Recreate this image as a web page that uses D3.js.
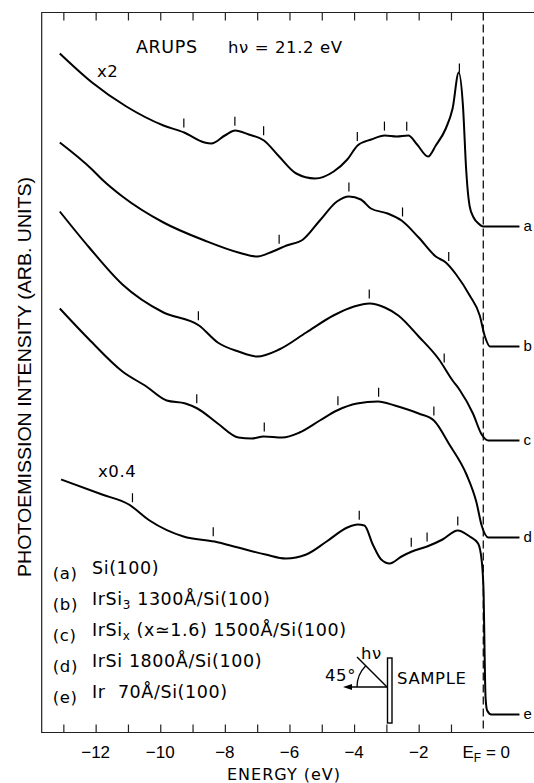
<!DOCTYPE html>
<html>
<head>
<meta charset="utf-8">
<script src="https://cdn.jsdelivr.net/npm/d3@7"></script>
<style>
    body { margin: 0; background: #fff; }
    svg { display: block; font-family: "Liberation Sans", Arial, sans-serif; }
    .wide { font-family: "DejaVu Sans", sans-serif; letter-spacing: 0.6px; }
</style>
</head>
<body>
<div id="chart"></div>
<script>
// energies in eV, intensities in arbitrary units above the bottom axis
const energyA = [-13.11, -12.11, -11.05, -9.90, -9.26, -8.63, -8.42, -8.00, -7.68, -7.26, -6.79, -6.32, -5.79, -5.21, -4.63, -4.21, -3.89, -3.47, -3.05, -2.68, -2.32, -2.05, -1.71, -1.47, -1.16, -0.95, -0.76, -0.63, -0.53, -0.49, -0.42, -0.30, -0.15, 0, 1.12]
const intensityA = [679, 650, 626, 607, 600, 590, 589, 597, 602, 598, 592, 576, 559, 554, 561, 573, 587, 593, 597, 596, 597, 588, 576, 587, 604, 624, 660, 627, 563, 545, 526, 515, 509, 506, 506]

const energyB = [-13.11, -12.11, -11.80, -11.17, -9.90, -8.63, -7.58, -7.00, -6.52, -6.09, -5.58, -5.06, -4.53, -4.16, -3.79, -3.48, -2.96, -2.53, -2.00, -1.47, -1.16, -0.84, -0.42, -0.11, 0.05, 0.21, 1.12]
const intensityB = [590, 563, 553, 536, 510, 492, 480, 476, 481, 487, 493, 512, 531, 536, 533, 524, 519, 512, 495, 476, 470, 458, 437, 417, 396, 386, 386]

const energyC = [-13.11, -12.20, -11.17, -9.90, -8.80, -8.22, -7.58, -7.00, -6.32, -5.48, -4.64, -4.00, -3.52, -3.05, -2.63, -2.00, -1.37, -0.95, -0.74, -0.32, -0.05, 0.16, 1.12]
const intensityC = [521, 485, 448, 420, 407, 390, 381, 376, 383, 400, 417, 426, 429, 425, 417, 396, 373, 352, 343, 319, 298, 292, 292]

const energyD = [-13.11, -12.20, -11.17, -10.43, -9.80, -9.22, -8.85, -8.22, -7.58, -7.17, -6.80, -6.22, -5.69, -5.06, -4.53, -3.91, -3.26, -2.74, -2.00, -1.53, -1.05, -0.52, -0.21, -0.05, 0.16, 1.12]
const intensityD = [424, 393, 361, 346, 332, 329, 324, 309, 295, 294, 296, 295, 300, 312, 322, 329, 331, 327, 319, 312, 288, 258, 230, 207, 195, 195]

const energyE = [-13.07, -11.80, -10.97, -10.33, -9.28, -8.32, -7.59, -6.74, -6.11, -5.48, -4.85, -4.21, -3.89, -3.68, -3.42, -3.16, -2.90, -2.53, -2.21, -1.74, -1.26, -0.79, -0.42, -0.16, -0.05, 0.01, 0.04, 0.07, 0.12, 0.25, 1.12]
const intensityE = [253, 238, 228, 212, 196, 191, 185, 178, 174, 178, 191, 205, 208, 207, 188, 173, 169, 176, 181, 186, 193, 202, 196, 189, 172, 140, 80, 35, 22, 18, 18]

// feature markers (eV)
const ticksA = [-9.27, -7.69, -6.80, -3.90, -3.06, -2.37, -0.74]
const ticksB = [-6.32, -4.16, -2.50, -1.07]
const ticksC = [-8.82, -3.53, -1.21]
const ticksD = [-8.87, -6.78, -4.50, -3.24, -1.53]
const ticksE = [-10.86, -8.36, -3.84, -2.23, -1.74, -0.79]

const curveNames = ["a", "b", "c", "d", "e"]
const legendText = ["Si(100)", "IrSi{3} 1300Å/Si(100)", "IrSi{x} (x≃1.6) 1500Å/Si(100)", "IrSi 1800Å/Si(100)", "Ir  70Å/Si(100)"]

const axisTicks = [-13, -12, -11, -10, -9, -8, -7, -6, -5, -4, -3, -2, -1]
const axisLabels = [-12, -10, -8, -6, -4, -2]

const curves = [
    { name: "a", energy: energyA, value: intensityA, ticks: ticksA },
    { name: "b", energy: energyB, value: intensityB, ticks: ticksB },
    { name: "c", energy: energyC, value: intensityC, ticks: ticksC },
    { name: "d", energy: energyD, value: intensityD, ticks: ticksD },
    { name: "e", energy: energyE, value: intensityE, ticks: ticksE }
]

const width = 534
const height = 783

const svg = d3.select("#chart")
    .append("svg")
    .attr("width", width)
    .attr("height", height)

const x = d3.scaleLinear()
    .domain([-13.67, 1.57])
    .range([41.7, 534])

const y = d3.scaleLinear()
    .domain([0, 720])
    .range([732.5, 12.5])

// frame
svg.append("path")
    .attr("d", `M${x(1.57)},${y(720)}H${x(-13.67)}V${y(0)}H${x(1.57)}`)
    .attr("fill", "none")
    .attr("stroke", "#222")
    .attr("stroke-width", 1.2)

// inward ticks top and bottom
svg.append("g")
    .attr("transform", `translate(0, ${y(0)})`)
    .call(d3.axisBottom(x).tickValues(axisTicks).tickSizeInner(-8).tickSizeOuter(0).tickFormat(""))
    .call(g => g.select(".domain").remove())
    .selectAll("line").attr("stroke", "#222").attr("stroke-width", 1.2)

svg.append("g")
    .attr("transform", `translate(0, ${y(720)})`)
    .call(d3.axisTop(x).tickValues(axisTicks).tickSizeInner(-8).tickSizeOuter(0).tickFormat(""))
    .call(g => g.select(".domain").remove())
    .selectAll("line").attr("stroke", "#222").attr("stroke-width", 1.2)

// Fermi level
svg.append("line")
    .attr("x1", x(0)).attr("x2", x(0))
    .attr("y1", y(720)).attr("y2", y(0))
    .attr("stroke", "#111")
    .attr("stroke-width", 1.3)
    .attr("stroke-dasharray", "8,4")

svg.append("g")
    .selectAll("text")
    .data(axisLabels)
    .join("text")
    .attr("x", d => x(d))
    .attr("y", 758)
    .attr("text-anchor", "middle")
    .style("font-size", "17px")
    .text(d => "\u2212" + Math.abs(d))

const ef = svg.append("text")
    .attr("x", x(0) + 3)
    .attr("y", 758)
    .attr("text-anchor", "middle")
    .style("font-size", "17px")
ef.append("tspan").text("E")
ef.append("tspan").attr("dy", 4).style("font-size", "12px").text("F")
ef.append("tspan").attr("dy", -4).text(" = 0")

svg.append("text")
    .attr("class", "wide")
    .attr("x", 284)
    .attr("y", 780)
    .attr("text-anchor", "middle")
    .style("font-size", "16px")
    .style("letter-spacing", "1px")
    .text("ENERGY (eV)")

svg.append("text")
    .attr("transform", "translate(31, 377) rotate(-90)")
    .attr("text-anchor", "middle")
    .attr("textLength", 400)
    .attr("lengthAdjust", "spacingAndGlyphs")
    .style("font-size", "18px")
    .text("PHOTOEMISSION INTENSITY (ARB. UNITS)")

// spectra
const line = d3.line()
    .x(d => x(d[0]))
    .y(d => y(d[1]))
    .curve(d3.curveMonotoneX)

svg.append("g")
    .selectAll("path")
    .data(curves)
    .join("path")
    .attr("d", c => line(c.energy.map((e, i) => [e, c.value[i]])))
    .attr("fill", "none")
    .attr("stroke", "#000")
    .attr("stroke-width", 2)
    .attr("stroke-linejoin", "round")

// intensity of a curve at an energy, for placing the markers
function valueAt(c, e) {
    const i = d3.bisectLeft(c.energy, e)
    const e0 = c.energy[i - 1], e1 = c.energy[i]
    const t = (e - e0) / (e1 - e0)
    return c.value[i - 1] + t * (c.value[i] - c.value[i - 1])
}

const markers = curves.flatMap(c => c.ticks.map(e => ({ e: e, v: valueAt(c, e) })))

svg.append("g")
    .selectAll("line")
    .data(markers)
    .join("line")
    .attr("x1", d => x(d.e)).attr("x2", d => x(d.e))
    .attr("y1", d => y(d.v) - 5).attr("y2", d => y(d.v) - 14)
    .attr("stroke", "#000")
    .attr("stroke-width", 1.2)

svg.append("g")
    .selectAll("text")
    .data(curves)
    .join("text")
    .attr("x", c => x(c.energy[c.energy.length - 1]) + 4)
    .attr("y", c => y(c.value[c.value.length - 1]))
    .attr("dy", "0.32em")
    .style("font-size", "15px")
    .text(c => c.name)

svg.append("text").attr("class", "wide").attr("x", 136).attr("y", 53).style("font-size", "17.5px").text("ARUPS")
svg.append("text").attr("class", "wide").attr("x", 228).attr("y", 53).style("font-size", "16.5px").text("hν = 21.2 eV")
svg.append("text").attr("class", "wide").attr("x", 97).attr("y", 77).style("font-size", "16.5px").text("x2")
svg.append("text").attr("class", "wide").attr("x", 98).attr("y", 477).style("font-size", "16.5px").text("x0.4")

// legend
const legend = svg.append("g")
    .attr("class", "wide")
    .selectAll("g")
    .data(legendText)
    .join("g")
    .attr("transform", (d, i) => `translate(0, ${573.6 + i * 31})`)

legend.append("text")
    .attr("x", 52.8)
    .attr("dy", "0.35em")
    .style("font-size", "16.5px")
    .text((d, i) => "(" + curveNames[i] + ")")

legend.append("text")
    .attr("x", 92)
    .attr("dy", "0.35em")
    .style("font-size", "17.5px")
    .style("white-space", "pre")
    .each(function (d) {
        const t = d3.select(this)
        d.split(/\{(.*?)\}/).forEach((part, k) => {
            if (k % 2) {
                t.append("tspan").attr("dy", 4).style("font-size", "12px").text(part)
            } else {
                t.append("tspan").attr("dy", k ? -4 : 0).text(part)
            }
        })
    })

// geometry inset
const inset = svg.append("g")
inset.append("rect")
    .attr("x", 387.5).attr("y", 658).attr("width", 4.5).attr("height", 65)
    .attr("fill", "#fff").attr("stroke", "#000").attr("stroke-width", 1.4)
inset.append("line")
    .attr("x1", 387).attr("y1", 687).attr("x2", 346).attr("y2", 687)
    .attr("stroke", "#000").attr("stroke-width", 1.4)
inset.append("path")
    .attr("d", "M343,687 L352,684 L352,690 Z")
    .attr("fill", "#000")
inset.append("line")
    .attr("x1", 387).attr("y1", 687).attr("x2", 357).attr("y2", 657)
    .attr("stroke", "#000").attr("stroke-width", 1.4)
inset.append("path")
    .attr("d", d3.arc()({ innerRadius: 30, outerRadius: 30, startAngle: -Math.PI / 2, endAngle: -Math.PI / 4 }))
    .attr("transform", "translate(387, 687)")
    .attr("fill", "none")
    .attr("stroke", "#000")
    .attr("stroke-width", 1.3)
inset.append("text").attr("class", "wide").attr("x", 325).attr("y", 681).style("font-size", "16.5px").text("45°")
inset.append("text").attr("class", "wide").attr("x", 361).attr("y", 659).style("font-size", "16.5px").text("hν")
inset.append("text").attr("class", "wide").attr("x", 397).attr("y", 684).style("font-size", "16.5px").text("SAMPLE")
</script>
</body>
</html>
